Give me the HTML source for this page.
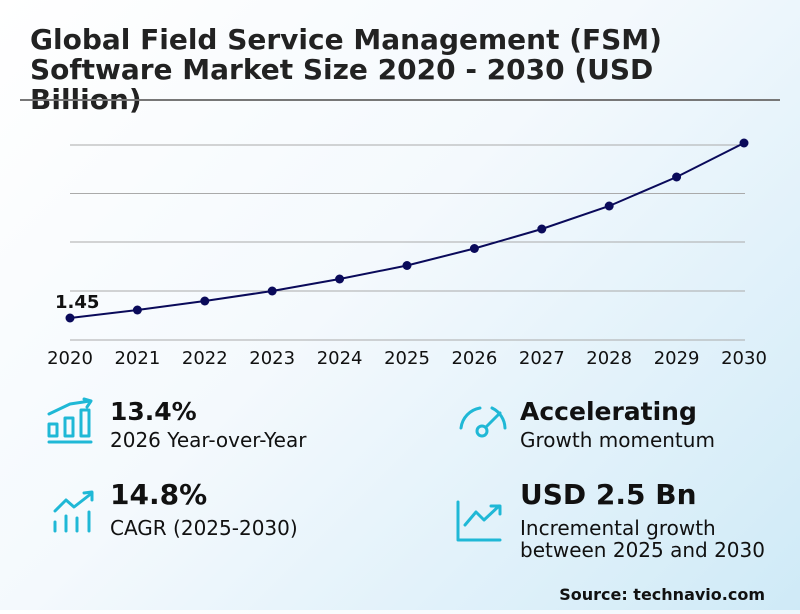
<!DOCTYPE html>
<html><head><meta charset="utf-8"><style>
html,body{margin:0;padding:0}
body{width:800px;height:610px;overflow:hidden;background:linear-gradient(135deg,#ffffff 0%,#f4f9fd 45%,#cfeaf7 100%);font-family:"DejaVu Sans","Liberation Sans",sans-serif;}
</style></head><body>
<svg width="800" height="610" xmlns="http://www.w3.org/2000/svg" font-family="DejaVu Sans, Liberation Sans, sans-serif">
<g font-weight="bold" font-size="28" fill="#222">
<text x="30" y="49">Global Field Service Management (FSM)</text>
<text x="30" y="79">Software Market Size 2020 - 2030 (USD</text>
<text x="30" y="109">Billion)</text>
</g>
<line x1="20" y1="100" x2="780" y2="100" stroke="#777" stroke-width="2"/>
<g stroke="#aaa" stroke-width="1">
<line x1="70" y1="145" x2="745" y2="145"/>
<line x1="70" y1="193.5" x2="745" y2="193.5"/>
<line x1="70" y1="242" x2="745" y2="242"/>
<line x1="70" y1="291" x2="745" y2="291"/>
<line x1="70" y1="340" x2="745" y2="340"/>
</g>
<polyline fill="none" stroke="#0a0a5a" stroke-width="2" points="70,318 137.4,310 204.8,301 272.2,291 339.6,279 407,265.5 474.4,248.5 541.8,229 609.2,206 676.6,177 744,143"/>
<g fill="#0a0a5a">
<circle cx="70" cy="318" r="4.5"/><circle cx="137.4" cy="310" r="4.5"/><circle cx="204.8" cy="301" r="4.5"/><circle cx="272.2" cy="291" r="4.5"/><circle cx="339.6" cy="279" r="4.5"/><circle cx="407" cy="265.5" r="4.5"/><circle cx="474.4" cy="248.5" r="4.5"/><circle cx="541.8" cy="229" r="4.5"/><circle cx="609.2" cy="206" r="4.5"/><circle cx="676.6" cy="177" r="4.5"/><circle cx="744" cy="143" r="4.5"/>
</g>
<text x="55" y="308" font-size="18" font-weight="bold" fill="#111">1.45</text>
<g font-size="18" fill="#111" text-anchor="middle">
<text x="70" y="364">2020</text><text x="137.4" y="364">2021</text><text x="204.8" y="364">2022</text><text x="272.2" y="364">2023</text><text x="339.6" y="364">2024</text><text x="407" y="364">2025</text><text x="474.4" y="364">2026</text><text x="541.8" y="364">2027</text><text x="609.2" y="364">2028</text><text x="676.6" y="364">2029</text><text x="744" y="364">2030</text>
</g>
<g stroke="#1fb8d6" stroke-width="3" fill="none" stroke-linecap="round" stroke-linejoin="round">
<path d="M49 414 L70 404 L90 401"/><path d="M84 399 L91 401 L87 407"/>
<rect x="49" y="424" width="8" height="12"/><rect x="65" y="418" width="8" height="18"/><rect x="81" y="410" width="8" height="26"/>
<line x1="49" y1="442" x2="91" y2="442"/>
<path d="M55 511 L66 500 L74 507 L92 493"/><path d="M84 493 L92 492 L92 500"/>
<line x1="55" y1="522" x2="55" y2="531"/><line x1="66" y1="516" x2="66" y2="531"/><line x1="77" y1="518" x2="77" y2="531"/><line x1="89" y1="512" x2="89" y2="531"/>
<path d="M461 428 A23 23 0 0 1 480 408"/><path d="M492 408 A23 23 0 0 1 505 428" />
<circle cx="482" cy="431" r="5"/><line x1="486" y1="427" x2="500" y2="413"/>
<path d="M458 502 L458 540 L500 540"/>
<path d="M465 525 L476 512 L484 520 L499 506"/><path d="M491 506 L500 506 L500 514"/>
</g>
<g fill="#111">
<text x="110" y="420" font-size="25" font-weight="bold">13.4%</text>
<text x="110" y="447" font-size="20">2026 Year-over-Year</text>
<text x="110" y="504" font-size="28" font-weight="bold">14.8%</text>
<text x="110" y="535" font-size="20">CAGR (2025-2030)</text>
<text x="520" y="420" font-size="25" font-weight="bold">Accelerating</text>
<text x="520" y="447" font-size="20">Growth momentum</text>
<text x="520" y="504" font-size="28" font-weight="bold">USD 2.5 Bn</text>
<text x="520" y="535" font-size="20">Incremental growth</text>
<text x="520" y="557" font-size="20">between 2025 and 2030</text>
<text x="765" y="600" font-size="16" font-weight="bold" text-anchor="end">Source: technavio.com</text>
</g>
</svg>
</body></html>
